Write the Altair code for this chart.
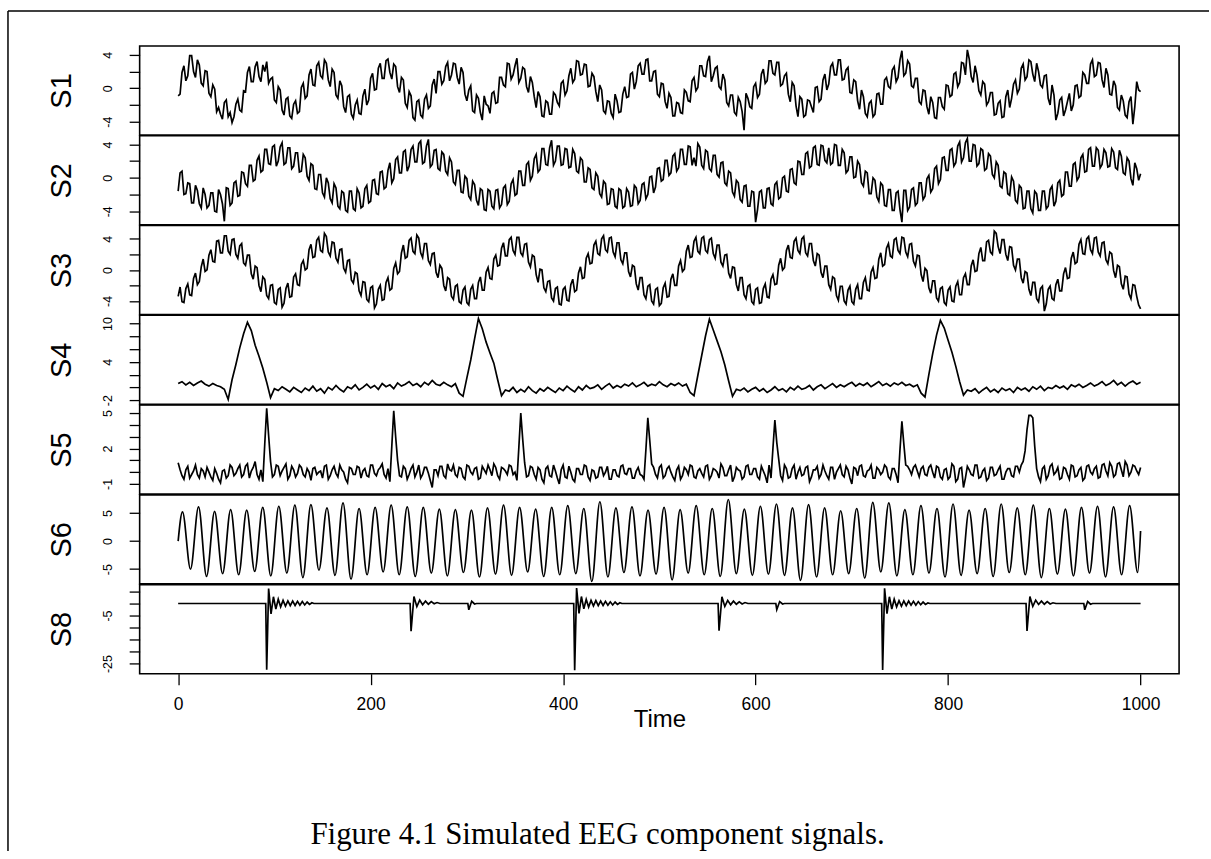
import altair as alt
import pandas as pd

# ---------------- data ----------------
# noisy series: values every 4 time units, plus the in-between samples (t = 2, 6, 10, ...)
s1 = [
    -0.9, 1.9, 0.9, 3.9, 2.0, 3.4, 0.6, 2.1, -0.6, 0.4,
    -2.8, -3.1, -1.7, -3.4, -4.1, -1.9, -2.6, -0.3, 1.9, 0.8,
    2.6, 1.4, 2.8, 3.2, 1.1, -1.4, 0.2, -2.6, -1.3, -3.3,
    -1.9, -3.0, 0.1, -1.2, 1.6, 0.4, 2.7, 1.5, 3.4, 1.0,
    2.3, -0.8, 0.9, -2.2, -1.0, -3.1, -2.0, -3.0, -0.9, -2.0,
    1.2, -0.2, 2.4, 1.2, 3.3, 1.9, 2.9, 0.2, 1.3, -1.8,
    -0.4, -3.5, -1.6, -3.2, -1.3, -2.4, 0.4,
    -0.6, 2.0, 0.9, 3.1, 1.6, 2.9, 0.5, 1.9, -1.5, 0.3,
    -2.9, -1.2, -3.8, -1.9, -3.0, -0.4, -1.7, 1.3, 0.2, 2.9,
    1.6, 3.6, 1.2, 2.3, -0.5, 0.7, -2.3, -1.0, -3.4, -1.7,
    -3.1, -0.8, -2.1, 0.9, -0.3, 2.4, 1.1, 3.2, 1.7, 2.8,
    0.3, 1.4, -1.6, -0.2, -3.0, -1.6, -3.5, -1.5, -2.8, 0.2,
    -1.0, 1.9, 0.8, 3.0, 1.7, 3.5, 0.9, 2.1, -1.0, 0.5,
    -2.4, -1.1, -3.3, -1.8, -3.0, -0.5, -1.6,
    1.3, 0.1, 2.7, 1.4, 3.9, 1.5, 2.6, -0.1, 1.0, -2.1,
    -0.8, -3.2, -1.6, -5.0, -1.2, -2.4, 0.6, -0.7, 2.3, 0.9,
    3.3, 1.6, 3.1, 0.5, 1.8, -1.6, 0.3, -3.4, -1.3, -3.2,
    -1.5, -2.9, 0.2, -1.3, 1.7, 0.5, 3.0, 1.6, 3.4, 1.1,
    2.5, -0.6, 0.8, -2.5, -1.0, -3.4, -1.5, -3.1, -0.6, -1.9,
    1.3, 0.0, 2.6, 1.3, 4.5, 1.8, 2.9, 0.1, 1.2, -1.9,
    -0.3, -3.1, -1.7, -3.6, -1.1, -2.5, 0.3,
    -0.8, 1.9, 0.7, 3.0, 4.6, 1.4, 2.7, -0.3, 0.8, -2.0,
    -0.5, -3.2, -1.8, -3.5, -1.0, -2.3, 0.5, -0.6, 2.4, 1.0,
    3.4, 1.7, 3.0, 0.4, 1.5, -1.2, 0.4, -3.8, -1.4, -3.3,
    -1.6, -2.7, 0.3, -1.1, 1.9, 0.6, 2.9, 1.4, 3.1, 1.0,
    2.4, -0.7, 0.9, -2.3, -0.8, -3.2, -1.6, -4.3, 0.8, -0.4,
]
s1_mid = [
    -0.7, 2.7, 1.5, 3.9, 1.3, 2.8, 0.3, 2.0, -1.0, -0.1,
    -2.3, -3.7, -1.4, -2.9, -3.4, -1.3, -2.8, -0.4, 2.6, 0.8,
    3.2, 0.8, 2.0, 0.6, 1.3, -1.7, -0.2, -3.2, -1.1, -3.6,
    -1.5, -2.8, 0.6, -0.9, 2.3, 0.3, 3.1, 1.2, 3.0, 0.2,
    1.9, -1.2, 0.3, -2.9, -0.8, -3.6, -1.4, -3.1, -0.1, -1.4,
    1.8, -0.1, 3.0, 1.2, 3.5, 1.1, 2.6, -0.5, 1.0, -2.3,
    -0.9, -3.8, -1.4, -3.5, -0.8, -2.1, 1.1,
    2.0, 0.5, 2.6, 0.9, 3.0, 1.3, 2.5, -0.7, -0.2, -2.7,
    -0.8, -2.9, -0.9, -2.1, -0.6, -1.8, 1.3, 0.4, 3.0, 1.1,
    2.7, 0.7, 2.5, 0.2, 1.4, -1.0, -0.4, -3.3, -1.5, -3.1,
    -0.5, -1.7, 0.6, -0.8, 1.5, 0.7, 3.3, 1.6, 2.9, 0.2,
    1.8, -0.4, 0.4, -2.7, -1.5, -3.0, -0.7, -2.9, -0.7, -1.1,
    1.7, -0.1, 2.7, 1.7, 3.4, 0.9, 2.0, -0.7, 0.6, -1.6,
    -0.6, -3.3, -1.7, -2.9, -0.2, -1.5, 0.9,
    -0.3, 2.7, 1.5, 3.2, 0.8, 2.4, 0.2, 1.7, -1.7, -0.8,
    -2.9, -1.1, -2.8, -0.6, -2.2, 0.2, -1.1, 1.7, 0.6, 3.3,
    1.8, 3.1, 0.3, 1.5, -0.7, 0.7, -2.1, -1.0, -3.4, -1.4,
    -2.2, 0.1, -1.6, 1.0, -0.2, 2.6, 1.6, 3.4, 1.0, 2.2,
    -0.5, 1.0, -1.5, -0.2, -3.0, -1.8, -3.4, -0.7, -1.9, 1.0,
    0.2, 2.2, 0.8, 3.4, 1.5, 3.3, 0.3, 1.2, -1.6, -0.2,
    -2.2, -1.0, -3.5, -1.1, -2.2, 0.4, -1.0,
    1.7, 0.2, 3.1, 1.6, 3.5, 0.7, 1.6, -0.8, 0.5, -1.6,
    -0.5, -3.1, -1.5, -3.4, -0.2, -1.2, 1.0, -0.1, 2.9, 1.4,
    3.2, 0.8, 2.0, 0.1, 1.6, -2.0, -0.8, -3.0, -1.1, -2.6,
    -0.6, -2.0, 0.4, -0.9, 1.6, 0.6, 3.4, 1.6, 3.0, 0.1,
    1.6, -0.8, 0.3, -2.6, -1.5, -3.5, -1.0, -2.2, -0.2,
]

s2 = [
    -1.6, 0.8, -1.9, -0.7, -3.0, -1.5, -3.6, -2.0, -3.3,
    -1.8, -4.1, -2.0, -5.2, -1.3, -3.0, -0.4, -2.1, 0.6, -1.0, 1.5, -0.2, 2.6, 0.9, 3.4, 1.6, 3.9, 2.0,
    4.2, 1.8, 3.6, 1.4, 3.0, 0.8, 2.4, -0.3, 1.5, -1.4, 0.4, -2.3, -0.6, -3.0, -1.2, -3.7, -1.8, -4.1,
    -1.6, -3.9, -1.8, -3.4, -0.9, -2.8, -0.2, -2.0, 0.8, -1.1, 1.8, -0.1, 2.5, 0.6, 3.3, 1.4, 3.8, 1.9, 4.4,
    1.9, 4.6, 1.6, 3.4, 0.9, 2.8, 0.4, 1.9, -0.8, 0.9, -1.8, -0.1, -2.6, -0.8, -3.3, -1.5, -3.9, -1.6,
    -3.7, -1.4, -3.2, -0.9, -2.8, -0.2, -1.9, 0.8, -0.9, 1.9, 0.2, 2.8, 1.0, 3.5, 1.5, 4.5, 2.0,
    3.8, 1.6, 3.4, 1.3, 2.9, 0.6, 2.1, -0.5, 1.0, -1.4, 0.2, -2.3, -0.7, -3.1, -1.4, -3.6, -1.5,
    -3.4, -1.7, -3.3, -1.2, -2.7, -0.6, -2.0, 0.2, -1.1, 1.2, -0.2, 2.1, 0.6, 2.9, 1.2, 3.4, 1.6, 3.7, 2.4,
    4.1, 1.5, 3.3, 1.1, 2.7, 0.4, 1.8, -0.6, 0.8, -1.7, -0.3, -2.6, -1.0, -3.4, -1.6, -5.3, -1.7,
    -3.6, -1.3, -3.1, -0.8, -2.5, 0.0, -1.6, 1.0, -0.6, 2.0, 0.4, 2.9, 1.2, 3.6, 1.6, 3.9, 2.1,
    3.6, 1.8, 3.9, 1.5, 3.0, 0.9, 2.5, 0.1, 1.6, -1.0, 0.6, -1.9, -0.3, -2.8, -0.9, -3.4, -1.4, -3.9, -1.6, -5.3,
    -1.5, -3.5, -1.2, -3.0, -0.6, -2.2, 0.3, -1.3, 1.4, -0.2, 2.5, 0.9, 3.5, 1.8, 4.3, 2.4,
    4.7, 2.0, 3.9, 1.7, 3.3, 1.1, 2.6, 0.0, 1.5, -1.2, 0.5, -2.1, -0.4, -3.0, -1.2, -3.6, -1.6, -4.2, -1.9,
    -3.9, -1.6, -3.4, -1.0, -2.8, -0.3, -2.0, 0.7, -1.0, 1.8, 0.1, 2.8, 0.8, 3.6, 1.4, 3.3, 1.6,
    3.0, 1.4, 3.1, 1.0, 2.6, 0.4, 2.0, -0.9, 1.1, 0.5,
]
s2_mid = [
    0.6, -2.0, -0.6, -3.0, -0.9, -3.1, -1.2, -3.6, -1.8,
    -4.0, -1.4, -3.1, -1.2, -3.3, -0.6, -2.2, 0.7, -0.7, 1.5, -0.4, 2.1, 0.7, 3.4, 1.7, 3.7, 1.4, 3.7,
    1.6, 3.6, 1.1, 3.0, 0.7, 2.8, 0.2, 1.7, -1.3, 0.4, -1.8, 0.0, -2.5, -0.7, -3.4, -1.6, -3.9, -1.6,
    -3.7, -1.3, -3.6, -1.3, -3.0, -0.3, -1.9, 0.7, -1.3, 0.9, -0.6, 2.2, 0.6, 3.1, 0.8, 3.4, 1.9, 4.1, 1.7,
    3.8, 1.3, 3.3, 1.1, 3.1, 0.8, 2.4, -0.5, 0.9, -1.7, 0.2, -2.2, -0.4, -2.7, -1.3, -3.8, -1.4, -3.4,
    -1.5, -3.6, -1.2, -3.2, -0.7, -2.1, 0.8, -0.9, 1.6, -0.3, 2.3, 0.7, 3.5, 1.6, 3.6, 1.5, 3.8,
    1.5, 3.5, 1.2, 3.4, 0.8, 2.4, -0.5, 1.2, -1.2, 0.6, -1.9, -0.4, -3.2, -1.3, -3.4, -1.3, -3.6,
    -1.3, -3.4, -0.9, -3.1, -0.8, -2.5, 0.1, -1.8, 1.1, -0.4, 2.1, 0.3, 2.6, 0.8, 3.4, 1.6, 3.8, 1.5, 1.4,
    3.7, 1.1, 3.1, 0.8, 2.7, 0.1, 1.9, -0.9, 0.6, -2.2, -0.6, -2.9, -0.9, -3.4, -1.7, -3.8, -1.5,
    -3.6, -1.2, -3.3, -0.5, -2.3, 0.2, -1.7, 1.1, -0.8, 1.9, 0.4, 3.1, 1.4, 3.8, 1.5, 3.8, 1.8,
    1.6, 4.0, 1.5, 3.4, 0.6, 2.5, 0.0, 2.0, -0.6, 0.8, -1.9, 0.0, -2.3, -0.6, -3.3, -1.4, -3.9, -1.8, -3.8, -1.5,
    -3.9, -1.4, -3.3, -0.6, -2.6, -0.1, -1.7, 1.1, -0.7, 2.4, 0.9, 3.3, 1.4, 3.8, 1.9, 4.2,
    2.0, 4.0, 1.4, 3.5, 0.9, 2.9, 0.4, 1.9, -1.0, 0.7, -1.9, 0.1, -2.7, -0.9, -3.7, -1.6, -3.7, -1.6, -3.9,
    -1.6, -3.7, -1.4, -3.4, -0.6, -2.2, 0.7, -1.0, 1.6, -0.3, 2.4, 0.7, 3.4, 1.4, 3.6, 1.2, 3.4,
    1.3, 3.5, 1.2, 3.3, 0.6, 2.4, -0.1, 1.8, -0.3,
]

s3 = [
    -3.4, -4.1, -2.4, -3.2, -1.1, -1.9, 0.4, -0.2, 1.9, 1.1, 3.7, 2.2, 4.4,
    2.4, 3.9, 2.0, 3.1, 0.9, 1.9, -0.5, 0.5, -2.0, -0.9, -3.3, -2.0, -4.2, -2.5,
    -4.8, -2.4, -3.5, -0.9, -1.9, 0.7, 0.0, 2.6, 1.6, 3.8, 2.5,
    4.7, 2.3, 3.6, 1.5, 2.6, 0.2, 1.2, -1.3, -0.3, -2.7, -1.5, -3.8, -2.3, -4.9,
    -2.5, -3.9, -1.6, -2.6, 0.2, -0.5, 2.2, 1.5, 3.8, 2.4,
    4.5, 2.2, 3.4, 1.2, 2.1, -0.3, 0.6, -2.0, -1.0, -3.4, -2.1, -4.1, -2.6,
    -4.2, -2.5, -3.7, -1.6, -2.6, -0.3, -1.1, 1.4, 0.5, 2.8, 1.8, 3.9, 2.5,
    4.2, 2.2, 3.3, 1.0, 1.9, -0.6, 0.1, -2.3, -1.5, -3.6, -2.4, -4.4,
    -2.5, -3.9, -1.9, -2.8, -0.4, -1.1, 1.5, 0.8, 3.2, 2.1, 4.0, 2.6,
    4.1, 2.3, 3.5, 1.3, 2.2, -0.2, 0.6, -1.8, -1.0, -3.2, -2.1, -4.0, -2.5,
    -4.6, -2.3, -3.5, -1.2, -2.0, 0.5, -0.2, 2.4, 1.6, 3.7, 2.4, 4.1,
    2.5, 3.9, 2.1, 3.2, 1.0, 1.9, -0.4, 0.4, -1.9, -1.0, -3.2, -2.1, -4.1, -2.5,
    -4.3, -2.4, -3.5, -1.2, -1.9, 0.6, 0.0, 2.5, 1.6, 3.7, 2.5,
    4.0, 2.2, 3.4, 1.2, 2.1, -0.3, 0.5, -1.9, -0.9, -3.3, -2.1, -4.0, -2.6,
    -4.1, -2.5, -3.7, -1.6, -2.6, -0.3, -1.1, 1.4, 0.5, 2.8, 1.8, 3.9, 2.5,
    4.2, 2.3, 3.3, 1.1, 1.9, -0.6, 0.2, -2.3, -1.4, -3.6, -2.4, -4.2,
    -2.6, -4.0, -2.1, -3.2, -1.0, -1.9, 0.5, -0.2, 2.1, 1.2, 3.6, 2.3, 5.0,
    3.0, 3.9, 2.0, 3.0, 0.6, 1.4, -1.0, -0.2, -2.5, -1.6, -3.7, -2.4, -5.3,
    -2.5, -3.7, -1.9, -2.7, -0.5, -1.1, 1.5, 0.8, 3.3, 2.1, 4.0, 2.6,
    4.1, 2.3, 3.5, 1.3, 2.3, -0.1, 0.6, -1.8, -0.8, -3.1, -1.9, -3.4, -5.0,
]
s3_mid = [
    -2.2, -4.2, -1.8, -3.3, -0.4, -1.5, 1.4, 0.0, 2.6, 1.0, 3.8, 2.2, 4.4,
    2.0, 4.0, 1.5, 3.4, 0.6, 1.9, -1.2, 0.3, -2.8, -1.2, -3.7, -1.9, -4.4, -2.3,
    -4.3, -1.7, -3.4, -0.5, -2.0, 1.2, 0.2, 3.3, 1.7, 4.2, 2.3,
    4.3, 1.8, 3.5, 1.0, 2.7, -0.3, 1.3, -1.7, -0.5, -3.3, -1.6, -4.1, -2.1, -4.4,
    -2.0, -3.8, -1.0, -2.4, 0.9, -0.2, 3.2, 1.7, 4.1, 2.1,
    4.1, 1.6, 3.4, 0.7, 2.2, -1.0, 0.2, -2.7, -1.2, -3.8, -1.9, -4.3, -2.2,
    -4.5, -2.0, -3.7, -0.9, -2.6, 0.3, -1.2, 1.9, 0.6, 3.5, 1.8, 4.2, 2.0,
    4.2, 1.8, 3.4, 0.4, 1.7, -1.6, 0.0, -2.8, -1.4, -4.0, -2.2, -4.5,
    -2.2, -4.0, -1.2, -2.6, 0.4, -1.0, 2.1, 0.9, 3.7, 1.9, 4.4, 2.3,
    4.2, 1.7, 3.5, 0.8, 2.2, -0.9, 0.4, -2.6, -1.0, -3.7, -1.9, -4.4, -2.3,
    -4.3, -1.7, -3.4, -0.5, -2.0, 1.2, 0.1, 3.2, 1.7, 4.2, 2.1, 4.3,
    2.2, 4.1, 1.5, 3.2, 0.5, 2.0, -1.1, 0.3, -2.7, -1.0, -3.7, -1.9, -4.4, -2.3,
    -4.2, -1.8, -3.6, -0.6, -1.8, 1.5, 0.3, 3.2, 1.5, 4.1, 2.1,
    4.3, 1.8, 3.4, 0.5, 1.9, -1.0, 0.5, -2.5, -1.1, -3.9, -2.1, -4.4, -2.1,
    -4.4, -1.9, -3.7, -1.0, -2.7, 0.3, -1.0, 2.2, 0.7, 3.4, 1.6, 4.1, 2.1,
    4.1, 1.7, 3.4, 0.5, 1.8, -1.5, -0.1, -3.0, -1.4, -4.0, -2.2, -4.5,
    -2.2, -4.1, -1.5, -3.2, -0.5, -1.9, 1.3, -0.1, 2.9, 1.2, 3.8, 2.0, 4.7,
    2.1, 3.9, 1.2, 2.9, 0.0, 1.4, -1.7, -0.4, -3.3, -1.6, -4.1, -2.1, -4.4,
    -2.1, -3.9, -1.2, -2.7, 0.3, -1.0, 2.3, 1.0, 3.9, 2.0, 4.3, 2.1,
    4.2, 1.8, 3.6, 0.8, 2.1, -1.0, 0.4, -2.5, -0.9, -3.7, -2.0, -4.5,
]

s4 = [
    0.6, 0.9, 0.4, 0.8, 0.3, 0.7, 1.0, 0.5, 0.2, 0.6, 0.3, 0.1,
    -0.3, -1.9, 1.2, 3.6, 6.2, 8.4, 10.2, 8.9, 6.6, 4.9, 3.0, 0.8, -1.6, -0.2,
    -0.5, 0.1, -0.3, -0.7, 0.0, -0.4, -0.8, -0.1, -0.5, 0.2,
    -0.6, -0.2, -0.9, 0.0, -0.4, 0.3, -0.3, -0.7, 0.1, -0.2,
    0.4, -0.4, 0.0, 0.5, -0.1, 0.3, -0.3, 0.6, 0.1, 0.4,
    -0.2, 0.7, 0.2, 0.5, 0.9, 0.3, 0.6, 0.1, 0.8, 0.4,
    1.1, 0.5, 0.3, 0.8, 0.4, 0.1, 0.6,
    -0.9, -1.4, 1.5, 4.3, 7.6, 10.8, 9.2, 7.1, 5.4, 3.8, 1.2, -1.3, -0.4,
    -0.6, 0.0, -0.8, -0.3, -0.7, 0.1, -0.5, -0.9, -0.2, -0.6,
    0.0, -0.4, -0.8, -0.1, -0.5, 0.2, -0.3, -0.7, 0.1, -0.4,
    0.3, -0.2, 0.0, 0.4, -0.3, 0.2, 0.6, -0.1, 0.3, 0.0,
    0.5, 0.2, 0.7, 0.1, 0.4, 0.8, 0.2, 0.5, 0.3, 0.9,
    0.4, 0.1, 0.6, 0.3, 0.7, 0.2, 0.5,
    -0.8, -1.3, 1.9, 5.0, 8.1, 10.7, 9.0, 7.3, 5.6, 3.5, 1.0, -1.4, -0.3,
    -0.5, -0.1, -0.7, -0.3, 0.0, -0.6, -0.2, -0.8, -0.4, 0.1,
    -0.5, -0.2, -0.7, 0.0, -0.4, 0.2, -0.3, -0.1, 0.3, -0.4,
    0.1, 0.4, -0.2, 0.2, 0.6, 0.0, 0.4, 0.1, 0.5, 0.8,
    0.2, 0.6, 0.3, 0.7, 0.1, 0.5, 0.9, 0.3, 0.6, 0.2,
    0.7, 0.4, 0.8, 0.3, 0.5, 0.1, 0.4,
    -0.9, -1.5, 2.0, 5.3, 8.2, 10.5, 9.3, 7.4, 5.5, 3.3, 0.9, -1.2, -0.4,
    -0.6, -0.2, -0.9, -0.4, 0.0, -0.7, -0.3, -0.8, -0.1, -0.5,
    -0.2, -0.8, 0.0, -0.4, -0.1, -0.6, 0.1, -0.3, 0.2, -0.5,
    0.0, -0.2, 0.3, -0.1, 0.2, -0.3, 0.4, 0.1, 0.5, 0.0,
    0.3, 0.7, 0.2, 0.5, 0.9, 0.3, 0.6, 1.1, 0.4, 0.8,
    0.2, 0.7, 1.0, 0.5, 0.8,
]

s5 = [
    0.8, -0.3, 0.2, -0.5, 0.1, -0.2, 0.3, -0.4, 0.0, -0.7, -0.1, -0.9,
    0.2, -0.3, 0.4, -0.1, 0.6, -0.2, 0.7, 0.1, 0.9, -0.6, -0.8,
    5.4,
    0.9, -0.2, 0.5, 0.1, 0.7, -0.3, 0.2, -0.1, 0.4, -0.4, 0.0, 0.3, -0.2, 0.1, 0.5, -0.6,
    0.2, -0.1, 0.6, 0.0, -0.9, 0.3, -0.2, 0.4, 0.1, -0.3, 0.6, -0.1, 0.2, 0.7, -0.5, -0.8,
    5.2,
    1.0, -0.4, 0.3, -0.2, 0.6, 0.0, -0.5, 0.4, -0.1, -1.3, 0.2, 0.5, -0.3, 0.7, 0.1, -0.2,
    0.4, -0.4, 0.6, 0.0, 0.3, -0.6, 0.5, -0.1, 0.2, 0.7, -0.3, 0.4, 0.1, 0.6, -0.2, -0.7,
    5.0,
    0.8, -0.3, 0.4, -0.6, 0.2, -0.9, 0.5, -0.4, 0.1, -1.0, 0.6, -0.5, 0.0, -0.8, 0.3, -0.2,
    0.5, -0.7, 0.1, -0.4, 0.4, 0.0, -0.6, 0.2, -0.3, 0.5, -0.1, 0.3, -0.5, 0.1, -0.2, -0.6,
    4.6,
    0.7, -0.2, 0.4, -0.5, 0.3, 0.0, -0.7, 0.5, -0.3, 0.2, 0.6, -0.4, 0.1, -0.1, 0.5, -0.6,
    0.3, 0.0, 0.7, -0.3, 0.2, -0.8, 0.4, 0.1, -0.4, 0.6, -0.2, 0.3, -0.6, 0.1, -0.9, -0.5,
    4.4,
    1.1, -0.7, 0.3, -0.4, 0.6, 0.0, -0.3, 0.4, -0.8, 0.2, 0.5, -0.2, 0.1, -0.6, 0.4, 0.0,
    0.6, -0.4, 0.2, -1.0, 0.3, 0.5, -0.3, 0.1, 0.6, -0.5, 0.2, 0.0, 0.4, -0.6, 0.3, -0.9,
    4.3,
    0.6, 0.2, 0.4, 0.1, 0.3, -0.2, 0.4, 0.0, 0.5, -0.4, 0.2, -0.6, 0.7, -0.8, 0.3, -1.3,
    0.5, -0.2, 0.6, -0.5, 0.1, -0.7, 0.4, -0.3, 0.2, -0.6, 0.0, 0.3, -0.4, 0.5, 0.6, 1.8,
    4.8,
    4.6, 0.3, -0.8, 0.5, -0.3, 0.7, 0.0, -0.6, 0.4, -0.2, 0.6, -0.4, 0.2, -0.7, 0.5,
    0.0, 0.3, -0.5, 0.6, 0.1, 0.8, -0.4, 0.7, 0.2, 0.9, -0.3, 0.6, 0.1, 0.4,
]
s5_mid = [
    0.2, -0.6, 0.5, -0.2, 0.6, -0.5, 0.1, 0.4, -0.4, 0.3,
    -0.6, 0.1, -0.5, 0.6, -0.3, 0.3, -0.4, 0.5, -0.5, 0.4,
    -0.2, 0.2, 2.4, 3.1,
    -0.4, 0.6, -0.3, 0.4, -0.6, 0.5,
    -0.4, 0.6, -0.2, 0.3, -0.7, 0.4, 0.0, -0.5, 0.6, -0.3,
    0.5, -0.4, 0.2, -0.6, 0.4, -0.2, 0.5, -0.5, 0.3, -0.4,
    0.6, -0.3, 0.4, -0.2, 0.3, 2.2, 3.0,
    -0.3, 0.5, -0.6,
    0.3, -0.4, 0.6, -0.2, 0.4, -0.7, 0.2, -0.3, 0.5, -0.5,
    0.2, 0.6, -0.4, 0.3, -0.6, 0.5, -0.2, 0.4, -0.5, 0.2,
    0.6, -0.3, 0.4, -0.6, 0.3, -0.2, 0.5, 0.0, 2.1, 2.8,
    -0.4, 0.5, -0.2, 0.4, -0.6, 0.3, -0.3, 0.6, -0.5, 0.2,
    -0.4, 0.5, -0.6, 0.3, -0.2, 0.6, -0.4, 0.2, -0.5, 0.4,
    -0.3, 0.5, -0.6, 0.2, -0.4, 0.6, -0.2, 0.3, -0.5, 0.4,
    -0.3, 1.9, 2.7,
    0.4, -0.5, 0.6, -0.3, 0.5, -0.4, 0.2,
    -0.6, 0.4, -0.2, 0.5, -0.5, 0.3, -0.4, 0.6, -0.3, 0.2,
    -0.5, 0.4, -0.3, 0.6, -0.4, 0.2, -0.6, 0.5, -0.2, 0.3,
    -0.4, 0.5, -0.3, 0.6, 2.0, 2.5,
    -0.3, 0.6, -0.5, 0.3,
    -0.6, 0.4, -0.2, 0.5, -0.4, 0.2, -0.5, 0.6, -0.3, 0.4,
    -0.6, 0.3, -0.2, 0.5, -0.5, 0.4, -0.3, 0.6, -0.4, 0.2,
    -0.5, 0.4, -0.2, 0.6, -0.4, 0.3, -0.2, 1.9, 2.4,
    0.5, -0.2, 0.6, -0.4, 0.5, -0.3, 0.6, -0.5, 0.4, -0.6, 0.3,
    -0.4, 0.5, -0.6, 0.4, -0.5, 0.2, -0.3, 0.6, -0.4, 0.3,
    -0.5, 0.4, -0.2, 0.5, -0.6, 0.3, -0.3, 0.5, 0.0, 0.9,
    3.6, 4.8, 2.2,
    -0.4, 0.3, -0.6, 0.5, -0.2, 0.4, -0.5,
    0.3, -0.6, 0.5, -0.3, 0.4, -0.5, 0.6, -0.2, 0.5, -0.4,
    0.7, -0.3, 0.5, -0.2, 0.8, -0.4, 0.6, 0.0, 0.5, -0.2,
]

# s6: successive peak and trough values of the oscillation
s6_peaks = [
    5.2, 6.1, 5.3, 5.6, 5.5, 6.0, 6.2, 6.4, 6.5, 5.9,
    6.8, 5.8, 6.0, 6.4, 6.1, 6.0, 5.7, 5.6, 5.5, 5.9,
    6.4, 6.0, 5.7, 6.0, 6.3, 5.8, 7.0, 5.9, 6.1, 5.5,
    6.0, 5.6, 6.3, 5.8, 7.4, 5.7, 6.2, 6.6, 5.9, 6.5,
    5.9, 5.4, 5.8, 6.9, 6.8, 5.6, 6.3, 5.8, 6.6, 5.5,
    5.8, 6.6, 5.9, 6.4, 5.8, 5.7, 6.0, 6.2, 6.1, 6.3,
]
s6_troughs = [
    -5.0, -6.3, -5.8, -6.0, -5.4, -6.2, -5.7, -6.5, -5.2, -6.1,
    -6.8, -6.0, -5.5, -6.0, -6.3, -5.7, -6.2, -5.6, -6.4, -5.9,
    -6.1, -5.5, -6.3, -6.0, -5.8, -7.2, -6.4, -5.6, -6.2, -5.9,
    -6.9, -5.7, -6.0, -6.3, -5.8, -6.1, -5.9, -6.1, -7.0, -6.4,
    -6.0, -5.8, -6.6, -5.5, -6.2, -6.0, -5.7, -6.4, -6.1, -5.8,
    -6.3, -5.6, -6.0, -6.5, -5.9, -6.2, -5.7, -6.4, -6.0, -5.6,
]
s6_start, s6_end = 0.0, 1.8

# s8: flat line with damped transients
s8_t = [
    0, 91, 92, 94, 96.5, 99, 101.5, 104, 106.5, 109, 111.5, 114, 116.5, 119, 121.5, 124, 126.5, 129, 131.5, 134, 136.5, 139, 141,
    241, 242, 245, 248, 251, 254, 257, 260, 263, 266, 269, 272,
    301, 302, 305, 308, 310,
    411, 412, 414, 416.5, 419, 421.5, 424, 426.5, 429, 431.5, 434, 436.5, 439, 441.5, 444, 446.5, 449, 451.5, 454, 456.5, 459, 461,
    561, 562, 565, 568, 571, 574, 577, 580, 583, 586, 589, 592,
    621, 622, 625, 628, 630,
    731, 732, 734, 736.5, 739, 741.5, 744, 746.5, 749, 751.5, 754, 756.5, 759, 761.5, 764, 766.5, 769, 771.5, 774, 776.5, 779, 781,
    881, 882, 885, 888, 891, 894, 897, 900, 903, 906, 909, 912,
    941, 942, 945, 948, 950,
    1000,
]
s8_v = [
    0, 0, -27.5, 6.2, -4.3, 2.8, -2.3, 1.8, -1.4, 1.3, -1.1, 1.1, -0.9, 1.0, -0.8, 0.9, -0.7, 0.8, -0.6, 0.6, -0.4, 0.3, 0,
    0, -11.5, 2.9, -1.3, 1.4, -0.5, 1.0, -0.3, 0.8, -0.1, 0.4, 0,
    0, -2.6, 0.9, -0.2, 0,
    0, -27.8, 6.4, -4.1, 2.9, -2.2, 1.7, -1.5, 1.3, -1.0, 1.2, -0.9, 1.0, -0.8, 0.9, -0.7, 0.7, -0.6, 0.6, -0.4, 0.3, 0,
    0, -11.3, 2.8, -1.2, 1.3, -0.5, 1.0, -0.3, 0.7, -0.2, 0.4, 0,
    0, -2.5, 0.8, -0.2, 0,
    0, -27.6, 6.3, -4.2, 2.8, -2.3, 1.8, -1.4, 1.2, -1.1, 1.1, -0.9, 1.0, -0.7, 0.9, -0.7, 0.8, -0.5, 0.6, -0.4, 0.2, 0,
    0, -11.4, 2.9, -1.2, 1.4, -0.4, 1.0, -0.3, 0.8, -0.2, 0.3, 0,
    0, -2.6, 0.8, -0.3, 0,
    0,
]

x_ticks = [0, 200, 400, 600, 800, 1000]
caption = "Figure 4.1 Simulated EEG component signals."

# ---------------- layout constants ----------------
FONT = "Liberation Sans"
W = 1042
H = 89.3
XDOM = [-40, 1040]


def dense(coarse, mid):
    out = []
    for i, c in enumerate(coarse):
        out.append(c)
        if i < len(coarse) - 1 and i < len(mid):
            out.append(mid[i])
    return out


def grid(vals):
    n = len(vals)
    return [i * 1000.0 / (n - 1) for i in range(n)]


d1, d2, d3, d5 = dense(s1, s1_mid), dense(s2, s2_mid), dense(s3, s3_mid), dense(s5, s5_mid)

s6_vals = [s6_start]
for p, q in zip(s6_peaks, s6_troughs):
    s6_vals += [p, q]
s6_vals.append(s6_end)
half = 8.34
s6_t = [0.0] + [4.5 + half * k for k in range(len(s6_vals) - 2)] + [1000.0]

panels = [
    ("S1", grid(d1), d1, [-5.59, 5.07], [-4, -2, 0, 2, 4], [-4, 0, 4], "linear"),
    ("S2", grid(d2), d2, [-5.62, 5.04], [-4, -2, 0, 2, 4], [-4, 0, 4], "linear"),
    ("S3", grid(d3), d3, [-5.75, 5.72], [-4, -2, 0, 2, 4], [-4, 0, 4], "linear"),
    ("S4", grid(s4), s4, [-2.66, 11.31], [-2, 0, 2, 4, 6, 8, 10], [-2, 4, 10], "linear"),
    ("S5", grid(d5), d5, [-1.86, 5.68], [-1, 0, 1, 2, 3, 4, 5], [-1, 2, 5], "linear"),
    ("S6", s6_t, s6_vals, [-7.63, 8.23], [-5, 0, 5], [-5, 0, 5], "monotone"),
    ("S8", s8_t, s8_v, [-29.19, 7.86], [-25, -20, -15, -10, -5, 0, 5], [-5, -25], "linear"),
]

one = pd.DataFrame({"a": [0]})
charts = []
for idx, (name, t, v, ydom, ticks, labs, interp) in enumerate(panels):
    last = idx == len(panels) - 1
    df = pd.DataFrame({"t": t, "v": v})
    lab_expr = "indexof([" + ",".join(str(l) for l in labs) + "], datum.value) >= 0 ? '' + datum.value : ''"
    yaxis = alt.Axis(
        values=ticks, labelExpr=lab_expr, title=name,
        titleFont=FONT, titleFontSize=29, titleFontWeight="normal", titleColor="black",
        titleAngle=270, titleAlign="center", titleBaseline="alphabetic",
        titleX=-69.7, titleY=H / 2,
        labelFont=FONT, labelFontSize=12.5, labelColor="black",
        labelAngle=270, labelAlign="center", labelBaseline="bottom", labelPadding=15,
        labelOverlap=False, labelFlush=False, labelBound=False,
        tickSize=10.5, tickWidth=1.3, tickColor="black", domain=False, grid=False,
    )
    if last:
        xaxis = alt.Axis(
            values=x_ticks, labelExpr="'' + datum.value", title="Time",
            tickSize=11, tickWidth=1.3, tickColor="black",
            labelFont=FONT, labelFontSize=17.5, labelColor="black", labelPadding=11,
            labelFlush=False, labelOverlap=False, domain=False, grid=False,
            titleFont=FONT, titleFontSize=24, titleFontWeight="normal", titleColor="black",
            titleBaseline="alphabetic", titleY=52.5,
        )
    else:
        xaxis = None
    line = alt.Chart(df).mark_line(color="black", strokeWidth=1.7, interpolate=interp).encode(
        x=alt.X("t:Q", scale=alt.Scale(domain=XDOM, nice=False, zero=False), axis=xaxis),
        y=alt.Y("v:Q", scale=alt.Scale(domain=ydom, nice=False, zero=False), axis=yaxis),
    )
    layers = [line]
    if idx == 0:
        layers.append(alt.Chart(one).mark_rule(color="black", strokeWidth=1.5).encode(
            x=alt.value(-132), y=alt.value(-35), y2=alt.value(807)))
        layers.append(alt.Chart(one).mark_rule(color="black", strokeWidth=1.5).encode(
            x=alt.value(-132), x2=alt.value(1072), y=alt.value(-35)))
    if last:
        layers.append(alt.Chart(one).mark_text(
            text=caption, font="Liberation Serif", fontSize=31, color="black",
            align="center", baseline="middle").encode(x=alt.value(459), y=alt.value(251)))
    charts.append(alt.layer(*layers).properties(width=W, height=H))

chart = alt.vconcat(*charts, spacing=0, bounds="flush").properties(
    padding={"left": 6, "top": 8, "right": 0, "bottom": 0}
).configure(background="white").configure_view(stroke="black", strokeWidth=1.6)

chart.save("out.html", embed_options={"renderer": "svg", "actions": False})
